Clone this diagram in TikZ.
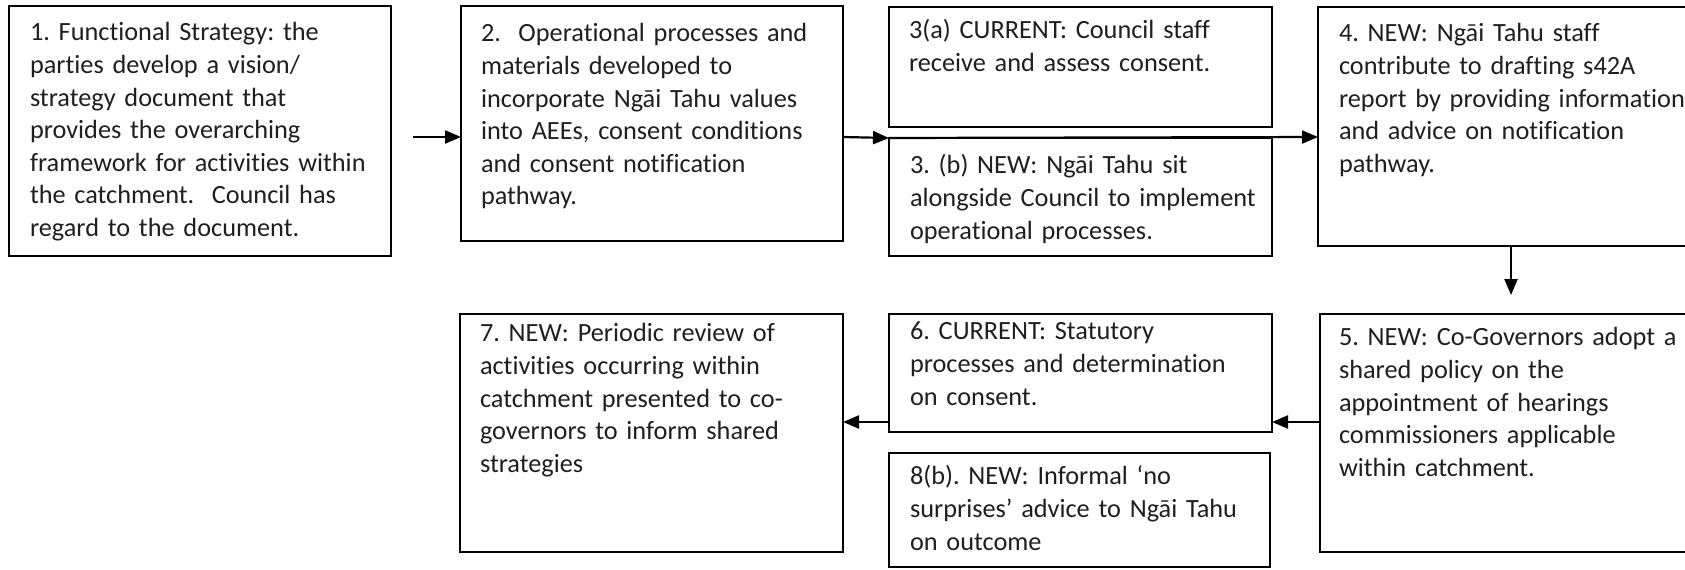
\documentclass[tikz,border=0pt]{standalone}
\usepackage{fontspec}
\setmainfont[Ligatures={NoCommon}]{Carlito}
\usetikzlibrary{arrows.meta}
\frenchspacing
\tikzset{
  box/.style={draw=black, line width=1.25pt, inner sep=0pt, outer sep=0pt, fill=none},
  txt/.style={anchor=north west, inner sep=0pt, outer sep=0pt, text width=200pt, align=left,
    font=\fontsize{13.15}{16.3}\selectfont\frenchspacing, text=black!88},
  arr/.style={line width=1.1pt, -{Triangle[length=8pt,width=6.5pt]}},
}
\begin{document}
\begin{tikzpicture}[x=0.5pt,y=-0.5pt]
\useasboundingbox (0,0) rectangle (1685,569);
\clip (0,0) rectangle (1685,569);
\fill[white] (0,0) rectangle (1685,569);
% boxes
\node[box, minimum width=191pt, minimum height=125pt] (n1) at (200,131) {};
\node[box, minimum width=191pt, minimum height=117.5pt] (n2) at (652,123.5) {};
\node[box, minimum width=191.5pt, minimum height=60pt] (n3a) at (1080.5,67) {};
\node[box, minimum width=191.5pt, minimum height=59pt] (n3b) at (1080.5,197) {};
\node[box, minimum width=191pt, minimum height=119.5pt] (n4) at (1509,126.5) {};
\node[box, minimum width=191pt, minimum height=119pt] (n5) at (1511,433) {};
\node[box, minimum width=191.5pt, minimum height=59pt] (n6) at (1080.5,373) {};
\node[box, minimum width=190.5pt, minimum height=57pt] (n8) at (1079.5,510) {};
\node[box, minimum width=191.5pt, minimum height=119pt] (n7) at (651.5,433) {};
% texts
\node[txt] (t1) at (30,18) {\strut 1. Functional Strategy: the\\ parties develop a vision/\\ strategy document that\\ provides the overarching\\ framework for activities within\\ the catchment.\ \ Council has\\ regard to the document.};
\node[txt] (t2) at (481,19) {\strut 2.\ \ Operational processes and\\ materials developed to\\ incorporate Ngāi Tahu values\\ into AEEs, consent conditions\\ and consent notification\\ pathway.};
\node[txt] (t3a) at (909,16) {\strut 3(a) CURRENT: Council staff\\ receive and assess consent.};
\node[txt] (t3b) at (910,151) {\strut 3. (b) NEW: Ngāi Tahu sit\\ alongside Council to implement\\ operational processes.};
\node[txt] (t4) at (1339,19) {\strut 4. NEW: Ngāi Tahu staff\\ contribute to drafting s42A\\ report by providing information\\ and advice on notification\\ pathway.};
\node[txt] (t5) at (1339,323) {\strut 5. NEW: Co-Governors adopt a\\ shared policy on the\\ appointment of hearings\\ commissioners applicable\\ within catchment.};
\node[txt] (t6) at (910,317) {\strut 6. CURRENT: Statutory\\ processes and determination\\ on consent.};
\node[txt] (t8) at (910,462) {\strut 8(b). NEW: Informal ‘no\\ surprises’ advice to Ngāi Tahu\\ on outcome};
\node[txt] (t7) at (480,319) {\strut 7. NEW: Periodic review of\\ activities occurring within\\ catchment presented to co-\\ governors to inform shared\\ strategies};
% connectors
\coordinate (c1) at (413,137);
\coordinate (c4) at (1511,295);
\coordinate (c5) at (1300,422);
\draw[arr] (c1) -- (c1 -| n2.west);
\draw[arr] (n2.east |- c1) -- (n3b.north west);
\draw[arr] (n3b.north west) -- (n4.west |- c1);
\draw[arr] (c4 |- n4.south) -- (c4);
\draw[arr] (n5.west |- c5) -- (n6.east |- c5);
\draw[arr] (n6.west |- c5) -- (n7.east |- c5);
\end{tikzpicture}
\end{document}
